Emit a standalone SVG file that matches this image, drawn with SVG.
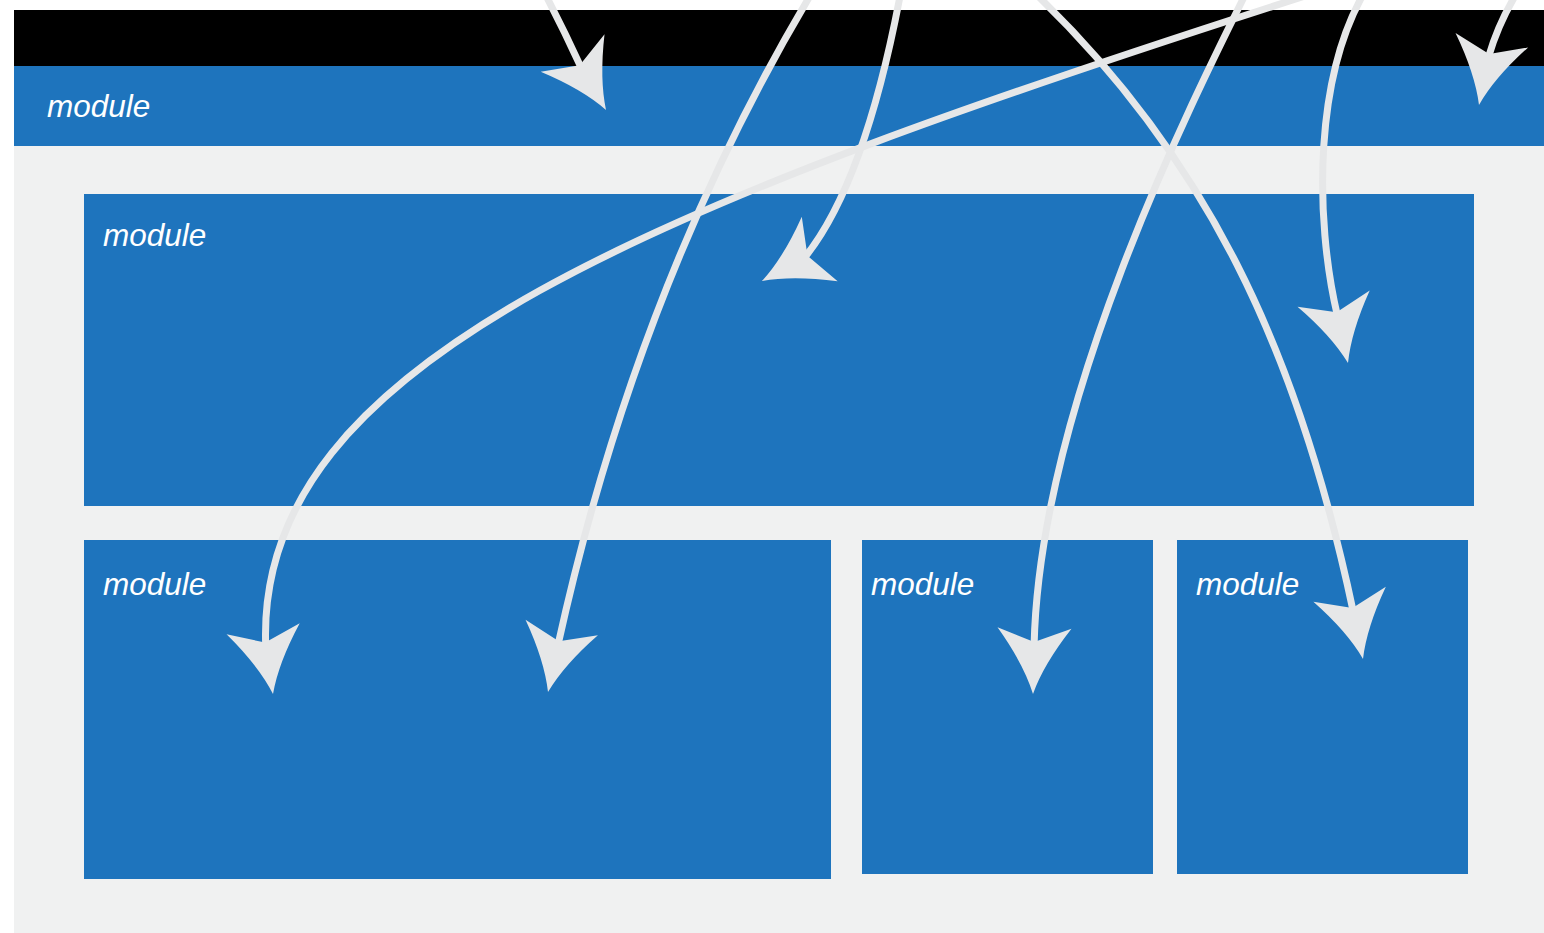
<svg xmlns="http://www.w3.org/2000/svg" xmlns:xlink="http://www.w3.org/1999/xlink" width="1544" height="933" viewBox="0 0 1544 933">
<style>
.blue{fill:#1e74bd}
.lbl{font-family:"Liberation Sans",Arial,sans-serif;font-style:italic;font-size:31.5px;fill:#ffffff}
.conn{fill:none;stroke:#e6e7e8;stroke-width:7}
.head{fill:#e6e7e8}
</style>
<defs>
<path id="head" d="M0,0 Q-30,-10 -66,-37 L-52,0 L-66,37 Q-30,10 0,0 Z"/>
</defs>
<rect x="0" y="0" width="1544" height="933" fill="#ffffff"/>
<g id="container">
<rect x="14" y="10" width="1530" height="56" fill="#000000"/>
<rect x="14" y="66" width="1530" height="80" class="blue"/>
<rect x="14" y="146" width="1530" height="787" fill="#f0f1f1"/>
<text x="47" y="117" class="lbl">module</text>
</g>
<g id="module-main">
<rect x="84" y="194" width="1390" height="312" class="blue"/>
<text x="103" y="246" class="lbl">module</text>
</g>
<g id="module-bottom-left">
<rect x="84" y="540" width="747" height="339" class="blue"/>
<text x="103" y="595" class="lbl">module</text>
</g>
<g id="module-bottom-mid">
<rect x="862" y="540" width="291" height="334" class="blue"/>
<text x="871" y="595" class="lbl">module</text>
</g>
<g id="module-bottom-right">
<rect x="1177" y="540" width="291" height="334" class="blue"/>
<text x="1196" y="595" class="lbl">module</text>
</g>
<g id="connectors">
<path class="conn" d="M542,-12 Q562,26 581.2,67.8"/>
<path class="conn" d="M835,-45 C700,170 612,400 558.2,644.1"/>
<path class="conn" d="M903,-20 C885,80 855,195 804.9,257.2"/>
<path class="conn" d="M1330,-12 C650,205 255,360 265.7,645.5"/>
<path class="conn" d="M1010,-30 C1210,150 1300,360 1353.1,611"/>
<path class="conn" d="M1255,-25 C1195,95 1040,400 1034.1,645"/>
<path class="conn" d="M1372,-20 C1312,70 1315,220 1337.3,315.2"/>
<path class="conn" d="M1522,-15 Q1500,18 1488.5,56.9"/>
<use xlink:href="#head" href="#head" class="head" transform="translate(606,110) rotate(59.6)"/>
<use xlink:href="#head" href="#head" class="head" transform="translate(548,692) rotate(102)"/>
<use xlink:href="#head" href="#head" class="head" transform="translate(762,281) rotate(151)"/>
<use xlink:href="#head" href="#head" class="head" transform="translate(273,694) rotate(81.4)"/>
<use xlink:href="#head" href="#head" class="head" transform="translate(1363,659) rotate(78.3)"/>
<use xlink:href="#head" href="#head" class="head" transform="translate(1033,694) rotate(91.3)"/>
<use xlink:href="#head" href="#head" class="head" transform="translate(1348,363) rotate(77.4)"/>
<use xlink:href="#head" href="#head" class="head" transform="translate(1479,105) rotate(101.2)"/>
</g>
</svg>
